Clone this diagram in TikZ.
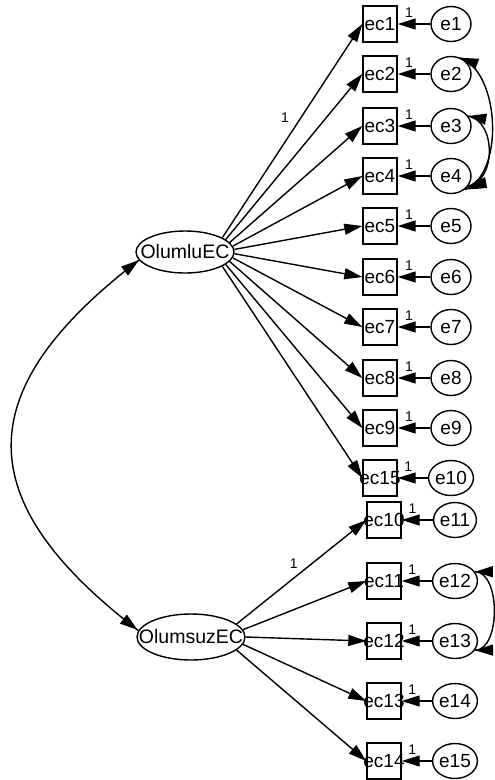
\documentclass[tikz,border=0pt]{standalone}
\usepackage{fontspec}
\setmainfont{Liberation Sans}
\usetikzlibrary{arrows.meta,shapes.geometric,decorations.markings}

\newcommand{\nolap}[1]{\makebox[0pt]{#1}}

\begin{document}
\begin{tikzpicture}[x=1pt, y=-1pt,
			latent/.style={draw, ellipse, line width=1.4, inner sep=0,
				font=\fontsize{19.5}{22}\selectfont},
			observed/.style={draw, rectangle, line width=1.4, inner sep=0,
				minimum width=34pt, minimum height=36pt,
				font=\fontsize{19}{22}\selectfont},
			unique/.style={draw, ellipse, line width=1.4, inner sep=0,
				minimum width=40pt, minimum height=35pt,
				font=\fontsize{19}{22}\selectfont},
			loading/.style={-{Triangle[length=18pt, width=11pt]}, line width=1.4},
			covar/.style={line width=1.4, postaction={decorate},
				decoration={markings,
					mark=at position 0 with {\arrowreversed{Triangle[length=18pt, width=11pt]}},
					mark=at position 0.998 with {\arrow{Triangle[length=18pt, width=11pt]}}}},
			weight/.style={font=\fontsize{14}{16}\selectfont, inner sep=1pt}]
			\useasboundingbox (0, 0) rectangle (495, 780);

			% latent factors
			\node[latent, minimum width=98pt, minimum height=42pt] (OlumluEC) at (185, 252)
				{\nolap{OlumluEC}};
			\node[latent, minimum width=108pt, minimum height=46pt] (OlumsuzEC) at (191, 637)
				{\nolap{OlumsuzEC}};

			% items of OlumluEC
			\node[observed] (ec1) at (380, 24)
				{\nolap{ec1}};
			\node[observed] (ec2) at (380, 74)
				{\nolap{ec2}};
			\node[observed] (ec3) at (380, 126)
				{\nolap{ec3}};
			\node[observed] (ec4) at (380, 176)
				{\nolap{ec4}};
			\node[observed] (ec5) at (380, 226)
				{\nolap{ec5}};
			\node[observed] (ec6) at (380, 277)
				{\nolap{ec6}};
			\node[observed] (ec7) at (380, 327)
				{\nolap{ec7}};
			\node[observed] (ec8) at (380, 378)
				{\nolap{ec8}};
			\node[observed] (ec9) at (380, 428)
				{\nolap{ec9}};
			\node[observed] (ec15) at (380, 478)
				{\nolap{ec15}};

			% items of OlumsuzEC
			\node[observed] (ec10) at (384, 520)
				{\nolap{ec10}};
			\node[observed] (ec11) at (384, 581)
				{\nolap{ec11}};
			\node[observed] (ec12) at (384, 641)
				{\nolap{ec12}};
			\node[observed] (ec13) at (384, 701)
				{\nolap{ec13}};
			\node[observed] (ec14) at (384, 761)
				{\nolap{ec14}};

			% error terms
			\node[unique] (e1) at (451, 24)
				{e1};
			\node[unique] (e2) at (451, 74)
				{e2};
			\node[unique] (e3) at (451, 126)
				{e3};
			\node[unique] (e4) at (451, 176)
				{e4};
			\node[unique] (e5) at (451, 226)
				{e5};
			\node[unique] (e6) at (451, 277)
				{e6};
			\node[unique] (e7) at (451, 327)
				{e7};
			\node[unique] (e8) at (451, 378)
				{e8};
			\node[unique] (e9) at (451, 428)
				{e9};
			\node[unique] (e10) at (451, 478)
				{e10};
			\node[unique] (e11) at (455, 520)
				{e11};
			\node[unique] (e12) at (455, 581)
				{e12};
			\node[unique] (e13) at (455, 641)
				{e13};
			\node[unique] (e14) at (455, 701)
				{e14};
			\node[unique] (e15) at (455, 761)
				{e15};

			% loadings OlumluEC
			\draw[loading]
				(OlumluEC.21) -- (ec1.west) node[weight, pos=.56, left=10pt] {1};
			\draw[loading]
				(OlumluEC.17) -- (ec2.west);
			\draw[loading]
				(OlumluEC.12) -- (ec3.west);
			\draw[loading]
				(OlumluEC.7) -- (ec4.west);
			\draw[loading]
				(OlumluEC.3) -- (ec5.west);
			\draw[loading]
				(OlumluEC.-2) -- (ec6.west);
			\draw[loading]
				(OlumluEC.-7) -- (ec7.west);
			\draw[loading]
				(OlumluEC.-12) -- (ec8.west);
			\draw[loading]
				(OlumluEC.-17) -- (ec9.west);
			\draw[loading]
				(OlumluEC.-21) -- (ec15.west);

			% loadings OlumsuzEC
			\draw[loading]
				(OlumsuzEC.16) -- (ec10.west) node[weight, pos=.5, above left=2pt] {1};
			\draw[loading]
				(OlumsuzEC.8) -- (ec11.west);
			\draw[loading]
				(OlumsuzEC.0) -- (ec12.west);
			\draw[loading]
				(OlumsuzEC.-8) -- (ec13.west);
			\draw[loading]
				(OlumsuzEC.-16) -- (ec14.west);

			% errors
			\draw[loading]
				(e1) -- (ec1) node[weight, pos=.65, above=5pt] {1};
			\draw[loading]
				(e2) -- (ec2) node[weight, pos=.65, above=5pt] {1};
			\draw[loading]
				(e3) -- (ec3) node[weight, pos=.65, above=5pt] {1};
			\draw[loading]
				(e4) -- (ec4) node[weight, pos=.65, above=5pt] {1};
			\draw[loading]
				(e5) -- (ec5) node[weight, pos=.65, above=5pt] {1};
			\draw[loading]
				(e6) -- (ec6) node[weight, pos=.65, above=5pt] {1};
			\draw[loading]
				(e7) -- (ec7) node[weight, pos=.65, above=5pt] {1};
			\draw[loading]
				(e8) -- (ec8) node[weight, pos=.65, above=5pt] {1};
			\draw[loading]
				(e9) -- (ec9) node[weight, pos=.65, above=5pt] {1};
			\draw[loading]
				(e10) -- (ec15) node[weight, pos=.65, above=5pt] {1};
			\draw[loading]
				(e11) -- (ec10) node[weight, pos=.65, above=5pt] {1};
			\draw[loading]
				(e12) -- (ec11) node[weight, pos=.65, above=5pt] {1};
			\draw[loading]
				(e13) -- (ec12) node[weight, pos=.65, above=5pt] {1};
			\draw[loading]
				(e14) -- (ec13) node[weight, pos=.65, above=5pt] {1};
			\draw[loading]
				(e15) -- (ec14) node[weight, pos=.65, above=5pt] {1};

			% covariances
			\draw[covar]
				(OlumluEC.190) .. controls +(-170, 130) and +(-170, -130) .. (OlumsuzEC.173);
			\draw[covar]
				(e2.60) .. controls +(40, 15) and +(40, -15) .. (e4.-45);
			\draw[covar]
				(e3.30) .. controls +(28, 5) and +(28, -5) .. (e4.-30);
			\draw[covar]
				(e12.25) .. controls +(26, 0) and +(26, 0) .. (e13.-25);

		\end{tikzpicture}
\end{document}
